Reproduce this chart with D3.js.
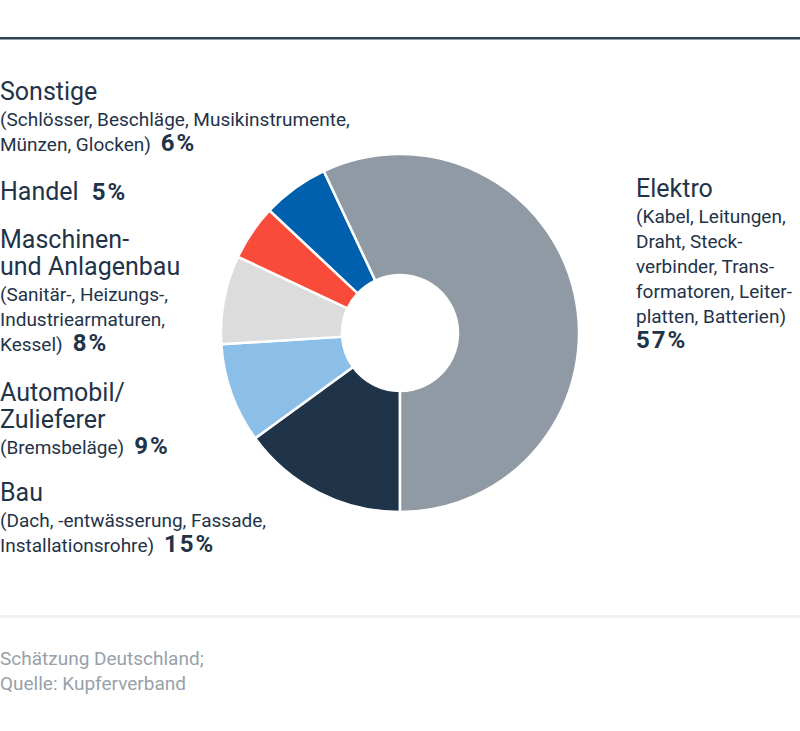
<!DOCTYPE html>
<html><head><meta charset="utf-8">
<script src="https://cdn.jsdelivr.net/npm/d3@7"></script>
<style>
html,body{margin:0;padding:0;background:#fff;}
svg{display:block;font-family:Roboto,"Noto Sans",sans-serif;}
</style></head>
<body>
<svg id="chart" width="800" height="731"></svg>
<script>
// ---- data ----
const categories = ["Bau","Automobil/ Zulieferer","Maschinen- und Anlagenbau","Handel","Sonstige","Elektro"];
const titleLines = [["Bau"],["Automobil/","Zulieferer"],["Maschinen-","und Anlagenbau"],["Handel"],["Sonstige"],["Elektro"]];
const detailLines = [
  ["(Dach, -entwässerung, Fassade,","Installationsrohre)"],
  ["(Bremsbeläge)"],
  ["(Sanitär-, Heizungs-,","Industriearmaturen,","Kessel)"],
  [],
  ["(Schlösser, Beschläge, Musikinstrumente,","Münzen, Glocken)"],
  ["(Kabel, Leitungen,","Draht, Steck-","verbinder, Trans-","formatoren, Leiter-","platten, Batterien)"]
];
const values = [15, 9, 8, 5, 6, 57];
const colors = ["#1f3349","#8bbfe8","#dcdcdc","#f94b3a","#0060ad","#8f9aa5"];
const footnote = ["Schätzung Deutschland;","Quelle: Kupferverband"];

// ---- layout ----
const svg = d3.select("#chart");
const cx = 400, cy = 333, rOuter = 179, rInner = 58;
const textColor = "#1f3349";

svg.append("rect").attr("x",0).attr("y",37).attr("width",800).attr("height",2.5).attr("fill","#2e4358");
svg.append("rect").attr("x",0).attr("y",615).attr("width",800).attr("height",3).attr("fill","#eff0f2");

const pie = d3.pie().sort(null).value(d => d).startAngle(Math.PI).endAngle(3*Math.PI);
const arc = d3.arc().innerRadius(rInner).outerRadius(rOuter);
const g = svg.append("g").attr("transform",`translate(${cx},${cy})`);
g.selectAll("path").data(pie(values)).join("path")
  .attr("d", arc)
  .attr("fill", (d,i) => colors[i])
  .attr("stroke","#fff").attr("stroke-width",2.5).attr("stroke-linejoin","miter");

// label blocks: [x, first baseline] per category index
const blockPos = [[0,501],[0,401],[0,248],[0,200],[0,100],[636,197]];
const titleStep = 27, detailStep = 25;

categories.forEach((c,i) => {
  const [x,y0] = blockPos[i];
  const t = svg.append("text").attr("fill",textColor);
  let y = y0;
  titleLines[i].forEach((ln,k) => {
    if (k>0) y += titleStep;
    t.append("tspan").attr("x",x).attr("y",y).attr("font-size",25).text(ln);
  });
  const det = detailLines[i];
  det.forEach((ln,k) => {
    y += (k===0 ? 26 : detailStep);
    t.append("tspan").attr("x",x).attr("y",y).attr("font-size",19).text(ln);
  });
  const pct = t.append("tspan").attr("font-size",24).attr("font-weight",700).attr("letter-spacing",2).text(values[i]+"%");
  if (i === 5) { pct.attr("x",x).attr("y",y+detailStep); }
  else { pct.attr("dx", det.length ? 10 : 13); }
});

svg.selectAll("text.foot").data(footnote).join("text").attr("class","foot")
  .attr("x",0).attr("y",(d,i)=>665+i*25).attr("font-size",19).attr("fill","#97a1ab").text(d=>d);
</script>
</body></html>
